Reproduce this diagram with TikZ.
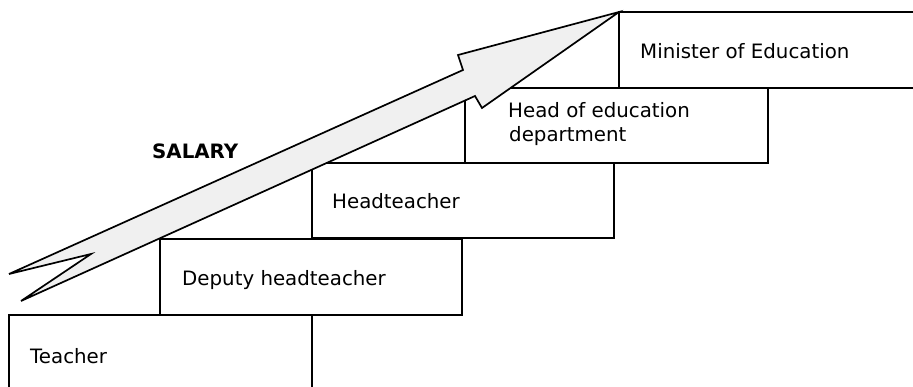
\documentclass[tikz,border=0pt]{standalone}
\usepackage{fontspec}
\setmainfont{DejaVu Sans}
\begin{document}
\begin{tikzpicture}[x=1pt,y=-1pt,
  stair/.style={draw=black, line width=1.8pt, fill=white, rectangle,
    inner sep=0pt, outer sep=0pt, anchor=north west},
  label/.style={anchor=base west, inner sep=0pt, font=\fontsize{19.8}{24}\selectfont},
  arrowbody/.style={draw=black, line width=1.7pt, fill=black!6, line join=miter}]
\useasboundingbox (0,0) rectangle (913,387);

% staircase of posts, bottom to top
\node[stair, minimum width=303pt, minimum height=90pt] (teacher) at (9,315) {};
\node[stair, minimum width=302pt, minimum height=76pt] (deputy) at (160,239) {};
\node[stair, minimum width=302pt, minimum height=75pt] (head) at (312,163) {};
\node[stair, minimum width=303pt, minimum height=75pt] (dept) at (465,88) {};
\node[stair, minimum width=320pt, minimum height=76pt] (minister) at (619,12) {};

\node[label] (tTeacher) at (30,363) {Teacher};
\node[label] (tDeputy) at (182,286) {Deputy headteacher};
\node[label] (tHead) at (332,209) {Headteacher};
\node[label] (tDept1) at (508,118) {Head of education};
\node[label] (tDept2) at (509,142) {department};
\node[label] (tMinister) at (640,59) {Minister of Education};

% rising salary arrow
\draw[arrowbody] (minister.north west) -- (458,55) -- (463,70) -- (9,274)
  -- (91,254) -- (21,301) -- (475,96) -- (482,108) -- cycle;

\node[label, font=\fontsize{19.8}{24}\selectfont\bfseries] (salary) at (152,159) {SALARY};
\end{tikzpicture}
\end{document}
